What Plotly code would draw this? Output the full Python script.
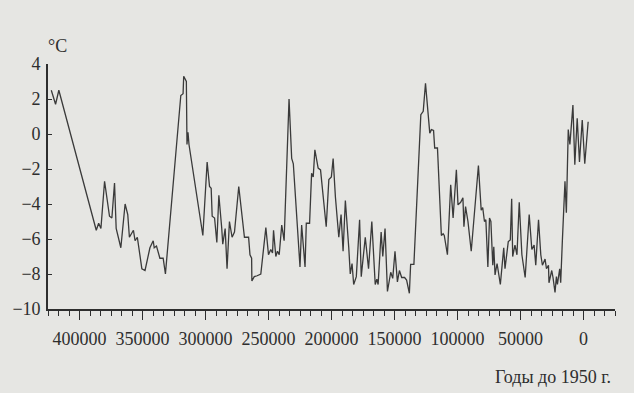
import plotly.graph_objects as go

years = [422400, 419000, 416400, 386700, 384800, 383000, 380100, 376200, 374300, 372200,
         370900, 367200, 363800, 361700, 360400, 357200, 355900, 354100, 350500, 348000,
         344100, 341500, 340700, 338900, 336200, 333600, 331800, 319600, 317800, 317300,
         315200, 314700, 313900, 313100, 302100, 298700, 296800, 295500, 294700, 292800,
         291000, 289400, 287100, 286300, 284400, 282900, 281000, 278900, 277000, 273600,
         269100, 265800, 264700, 263400, 263200, 261300, 259000, 256100, 252100, 250000,
         248200, 246800, 246000, 244200, 242900, 241500, 239500, 237600, 233700, 231600,
         230300, 225000, 223700, 221000, 220000, 217400, 215800, 214500, 213200, 210600,
         208700, 204200, 202100, 200100, 198700, 196900, 194200, 192400, 190800, 189000,
         186300, 185100, 183700, 182400, 180300, 177700, 176400, 173200, 170600, 168000,
         165300, 164000, 163000, 160600, 159300, 157500, 155600, 153000, 151400, 149600,
         147700, 146100, 144300, 142000, 140400, 138200, 137200, 134600, 129100, 127200,
         125400, 122000, 120700, 119000, 118100, 115900, 112800, 111400, 110500, 108000,
         105400, 103500, 100900, 99600, 97500, 95700, 94900, 93600, 91700, 89100,
         83400, 81200, 80000, 78600, 77500, 75900, 74600, 73500, 72000, 71200,
         70200, 68600, 66000, 63300, 62300, 59700, 58100, 57000, 56200, 54400,
         52800, 51000, 48900, 46300, 43100, 41000, 39200, 37900, 35700, 33900,
         32600, 30500, 29400, 27800, 27400, 25200, 24200, 22600, 21500, 20700,
         18900, 18100, 16800, 14700, 13600, 12100, 10800, 8400, 6900, 5000,
         3200, 1000, -1000, -3700]

temps = [2.5, 1.7, 2.5, -5.5, -5.1, -5.4, -2.7, -4.7, -4.8, -2.8,
         -5.4, -6.5, -4.0, -4.6, -5.9, -5.5, -6.1, -5.9, -7.7, -7.8,
         -6.5, -6.1, -6.5, -6.4, -7.1, -7.1, -8.0, 2.2, 2.3, 3.3,
         3.0, -0.6, 0.1, -0.6, -5.8, -1.6, -3.0, -3.1, -4.7, -4.8,
         -6.2, -3.5, -5.4, -6.3, -5.4, -7.7, -5.0, -5.9, -5.6, -3.0,
         -5.9, -5.9, -6.9, -7.1, -8.4, -8.15, -8.1, -8.0, -5.35, -6.9,
         -6.6, -6.8, -5.5, -7.0, -6.7, -6.9, -5.2, -6.1, 2.0, -1.4,
         -1.7, -7.6, -5.2, -7.6, -5.1, -5.1, -2.25, -2.45, -0.9, -1.95,
         -2.05, -5.3, -2.6, -2.45, -1.4, -3.6, -5.9, -4.6, -6.7, -3.8,
         -6.5, -8.0, -7.4, -8.6, -8.15, -4.9, -8.15, -5.9, -7.7, -5.0,
         -8.6, -8.3, -8.6, -5.6, -7.0, -5.4, -9.0, -7.9, -8.25, -6.7,
         -8.45, -7.8, -8.2, -8.2, -8.35, -9.1, -7.45, -7.45, 1.1, 1.3,
         2.9, 0.05, 0.25, 0.2, -0.8, -0.8, -5.8, -5.7, -5.8, -6.9,
         -2.9, -4.8, -2.05, -4.05, -3.9, -3.65, -5.3, -4.15, -5.0, -6.7,
         -1.8, -4.35, -4.2, -5.0, -4.9, -7.6, -4.8, -5.0, -7.5, -6.45,
         -8.05, -7.4, -8.6, -6.5, -7.7, -6.15, -6.05, -3.7, -7.0, -6.35,
         -6.9, -3.9, -6.9, -8.2, -4.6, -6.6, -6.35, -7.5, -4.9, -6.9,
         -7.5, -7.15, -7.7, -7.5, -8.5, -7.8, -8.2, -9.05, -8.15, -8.6,
         -7.7, -8.5, -6.15, -2.7, -4.5, 0.25, -0.6, 1.65, -1.75, 0.9,
         -1.6, 0.8, -1.7, 0.7]

x_tick_vals = [400000, 350000, 300000, 250000, 200000, 150000, 100000, 50000, 0]
x_tick_text = ["400000", "350000", "300000", "250000", "200000", "150000", "100000", "50000", "0"]
y_tick_vals = [4, 2, 0, -2, -4, -6, -8, -10]
y_tick_text = ["4", "2", "0", "\u22122", "\u22124", "\u22126", "\u22128", "\u221210"]

ink = "#2e2e2e"
paper = "#e6e6e3"
font_family = "Liberation Serif, Times New Roman, serif"

fig = go.Figure()
fig.add_trace(go.Scatter(x=years, y=temps, mode="lines",
                         line=dict(color="#3a3a3a", width=1.3), showlegend=False,
                         hoverinfo="skip"))

fig.update_layout(
    width=634, height=393,
    margin=dict(l=45, r=19, t=64, b=84),
    paper_bgcolor=paper, plot_bgcolor=paper,
    font=dict(family=font_family, size=18, color=ink),
    xaxis=dict(range=[425000, -25000], tickmode="array",
               tickvals=x_tick_vals, ticktext=x_tick_text,
               ticks="outside", ticklen=9, tickwidth=1.3, tickcolor=ink,
               showline=True, linecolor=ink, linewidth=1.6, showgrid=False,
               zeroline=False, ticklabelstandoff=4,
               minor=dict(tickmode="linear", dtick=50000 / 6, tick0=0,
                          ticks="outside", ticklen=5,
                          tickwidth=1.1, tickcolor=ink, showgrid=False)),
    yaxis=dict(range=[-10, 4], tickvals=y_tick_vals, ticktext=y_tick_text,
               ticks="inside", ticklen=4, tickwidth=1.3, tickcolor=ink,
               showline=True, linecolor=ink, linewidth=1.6, showgrid=False,
               zeroline=False, ticklabelstandoff=2),
    annotations=[
        dict(text="\u00b0C", xref="paper", yref="paper", x=0.0, y=1.0,
             xanchor="left", yanchor="bottom", yshift=6, xshift=-2, showarrow=False,
             font=dict(family=font_family, size=18, color=ink)),
        dict(text="Годы до 1950 г.", xref="paper", yref="paper", x=1.0, y=0.0,
             xanchor="right", yanchor="top", yshift=-56, xshift=-2, showarrow=False,
             font=dict(family=font_family, size=18, color=ink)),
    ],
)

fig.write_html("out.html", config={"displayModeBar": False},
               post_script="document.body.style.margin='0px';"
                           "document.body.style.background='#e6e6e3';")
